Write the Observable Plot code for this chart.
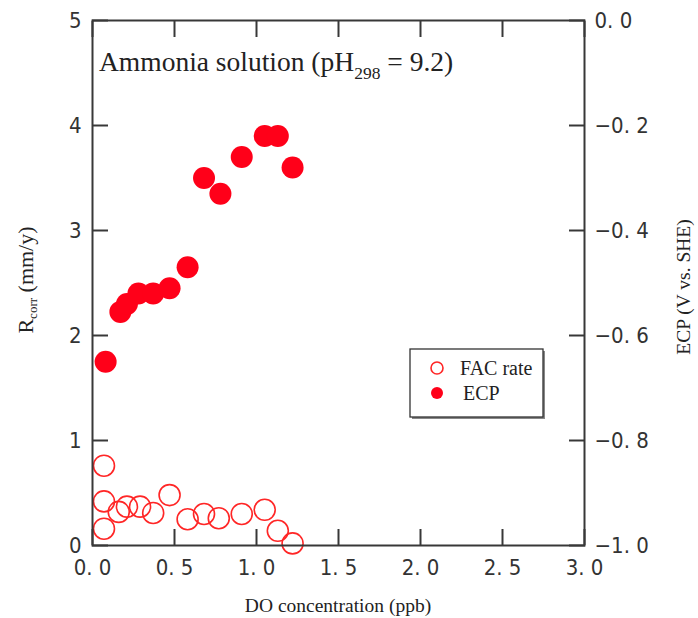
<!DOCTYPE html>
<html>
<head>
<meta charset="utf-8">
<script src="https://cdn.jsdelivr.net/npm/d3@7"></script>
<script src="https://cdn.jsdelivr.net/npm/@observablehq/plot@0.6"></script>
<style>
  body { margin: 0; background: #fff; }
</style>
</head>
<body>
<div id="chart"></div>
<script>
// FAC rate measurements: DO concentration (ppb) and corrosion rate Rcorr (mm/y)
const facDO   = [0.07, 0.07, 0.07, 0.16, 0.21, 0.29, 0.37, 0.47, 0.58, 0.68, 0.77, 0.91, 1.05, 1.13, 1.22];
const facRate = [0.76, 0.42, 0.16, 0.32, 0.37, 0.37, 0.31, 0.48, 0.25, 0.30, 0.26, 0.30, 0.34, 0.14, 0.02];

// ECP measurements: DO concentration (ppb) and potential (V vs. SHE)
const ecpDO     = [0.08, 0.17, 0.21, 0.28, 0.37, 0.47, 0.58, 0.68, 0.78, 0.91, 1.05, 1.13, 1.22];
const ecpValues = [-0.65, -0.555, -0.54, -0.52, -0.52, -0.51, -0.47, -0.30, -0.33, -0.26, -0.22, -0.22, -0.28];

// Tick values and their printed labels
const xTicks = [0, 0.5, 1, 1.5, 2, 2.5, 3];
const xTickLabels = ["0. 0", "0. 5", "1. 0", "1. 5", "2. 0", "2. 5", "3. 0"];
const rTicks = [0, 1, 2, 3, 4, 5];
const rTickLabels = ["0", "1", "2", "3", "4", "5"];
const ecpTicks = [-1, -0.8, -0.6, -0.4, -0.2, 0];
const ecpTickLabels = ["\u22121. 0", "\u22120. 8", "\u22120. 6", "\u22120. 4", "\u22120. 2", "0. 0"];

// The right-hand ECP axis (-1 … 0 V) shares the vertical extent of the Rcorr axis (0 … 5 mm/y)
const rDomain = [0, 5];
const ecpDomain = [-1, 0];
const ecpToR = (v) => rDomain[0] + (v - ecpDomain[0]) / (ecpDomain[1] - ecpDomain[0]) * (rDomain[1] - rDomain[0]);

const fac = facDO.map((d, i) => ({do: d, rate: facRate[i]}));
const ecp = ecpDO.map((d, i) => ({do: d, ecp: ecpValues[i]}));

const labelFor = (ticks, labels) => (v) => labels[d3.minIndex(ticks, (t) => Math.abs(t - v))];
const ecpTicksR = ecpTicks.map(ecpToR);

const tickFont = "'Liberation Sans Narrow', 'DejaVu Sans Condensed', sans-serif";
const serif = "'Liberation Serif', 'DejaVu Serif', serif";
const axisColor = "#383838";
const labelColor = "#333";
const red = "#ff0019";
const ringRed = "#ff2626";

const tickStyle = {fill: "none", stroke: axisColor, strokeWidth: 2, label: null};
const textStyle = {tickSize: 0, fontSize: 22, fontFamily: tickFont, fill: labelColor, label: null};

const chart = Plot.plot({
  width: 698,
  height: 618,
  marginLeft: 92,
  marginRight: 114,
  marginTop: 20,
  marginBottom: 73,
  x: {domain: [0, 3]},
  y: {domain: rDomain},
  style: {background: "#fff", overflow: "visible"},
  marks: [
    Plot.dot(fac, {x: "do", y: "rate", r: 10.5, fill: "none", stroke: ringRed, strokeWidth: 1.6}),
    Plot.dot(ecp, {x: "do", y: (d) => ecpToR(d.ecp), r: 11, fill: red, stroke: "none"}),

    // inward-pointing ticks on all four sides
    Plot.axisX({ticks: xTicks, tickSize: -16, ...tickStyle}),
    Plot.axisX({anchor: "top", ticks: xTicks, tickSize: -16, ...tickStyle}),
    Plot.axisY({ticks: rTicks, tickSize: -16, ...tickStyle}),
    Plot.axisY({anchor: "right", ticks: ecpTicksR, tickSize: -16, ...tickStyle}),

    // tick labels
    Plot.axisX({ticks: xTicks, tickFormat: labelFor(xTicks, xTickLabels), tickPadding: 14, ...textStyle}),
    Plot.axisY({ticks: rTicks, tickFormat: labelFor(rTicks, rTickLabels), tickPadding: 11, ...textStyle}),
    Plot.axisY({anchor: "right", ticks: ecpTicksR, tickFormat: labelFor(ecpTicksR, ecpTickLabels), tickPadding: 10, ...textStyle}),

    Plot.frame({stroke: axisColor, strokeWidth: 2})
  ]
});

document.getElementById("chart").append(chart);

const svg = d3.select(chart);

// axis titles
svg.append("text")
  .attr("x", 338).attr("y", 612)
  .attr("text-anchor", "middle")
  .attr("font-family", serif).attr("font-size", 19.5).attr("fill", "#222")
  .text("DO concentration (ppb)");

const yTitle = svg.append("text")
  .attr("transform", "translate(33,280) rotate(-90)")
  .attr("text-anchor", "middle")
  .attr("font-family", serif).attr("font-size", 22).attr("fill", "#222");
yTitle.append("tspan").text("R");
yTitle.append("tspan").attr("font-size", 13).attr("dy", 4).text("corr");
yTitle.append("tspan").attr("dy", -4).text(" (mm/y)");

svg.append("text")
  .attr("transform", "translate(690,287) rotate(-90)")
  .attr("text-anchor", "middle")
  .attr("font-family", serif).attr("font-size", 19.5).attr("fill", "#222")
  .text("ECP (V vs. SHE)");

// condition note
const note = svg.append("text")
  .attr("x", 99).attr("y", 71)
  .attr("text-anchor", "start")
  .attr("font-family", serif).attr("font-size", 27.5).attr("fill", "#222");
note.append("tspan").text("Ammonia solution (pH");
note.append("tspan").attr("font-size", 17.5).attr("dy", 8).text("298");
note.append("tspan").attr("dy", -8).text(" = 9.2)");

// legend
const legend = svg.append("g").attr("transform", "translate(410,349)");
legend.append("rect").attr("x", 2).attr("y", 2).attr("width", 133).attr("height", 68).attr("fill", "#888");
legend.append("rect").attr("width", 133).attr("height", 68).attr("fill", "#fff").attr("stroke", "#333").attr("stroke-width", 1.3);
const entries = [
  {label: "FAC rate", fill: "none", stroke: ringRed, dx: 50},
  {label: "ECP", fill: red, stroke: "none", dx: 53}
];
entries.forEach((e, i) => {
  const y = 19 + i * 25;
  legend.append("circle").attr("cx", 27).attr("cy", y).attr("r", 6)
    .attr("fill", e.fill).attr("stroke", e.stroke).attr("stroke-width", 1.6);
  legend.append("text").attr("x", e.dx).attr("y", y + 7)
    .attr("text-anchor", "start")
    .attr("font-family", serif).attr("font-size", 20).attr("fill", "#222")
    .text(e.label);
});
</script>
</body>
</html>
